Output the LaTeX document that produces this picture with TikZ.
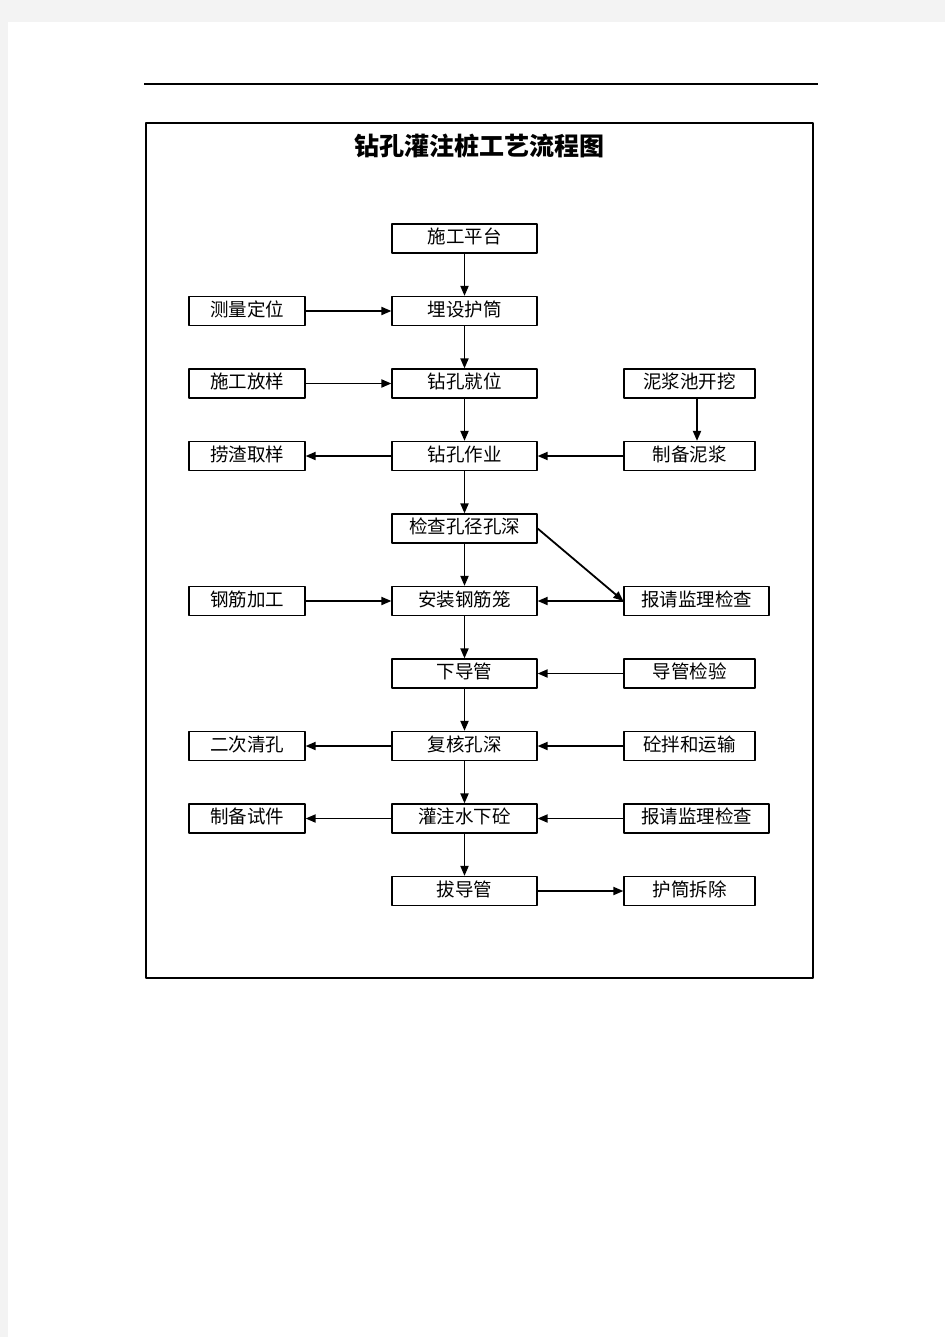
\documentclass[tikz,border=0pt]{standalone}
\usepackage{fontspec}
\setmainfont{Noto Sans CJK SC}
\usetikzlibrary{arrows.meta}
\definecolor{pagegray}{rgb}{0.953,0.953,0.953}

\begin{document}
\begin{tikzpicture}[x=1bp,y=-1bp,>={Triangle[length=10bp,width=8bp]},line join=bevel,
  box/.style={draw,line width=1.2bp,minimum height=29bp,inner sep=0pt,
    text height=1.1em,text depth=0em,font=\fontsize{18.5bp}{20bp}\selectfont},
  mid/.style={box,minimum width=145bp},
  side/.style={box,minimum width=116bp},
  far/.style={box,minimum width=131bp},
  flow/.style={->,line width=1.8bp}]
  \useasboundingbox (0,0) rectangle (945,1337);
%%
  \fill[pagegray] (0,0) rectangle (945,1337);
  \fill[white] (8,22) rectangle (945,1337);
  \draw[line width=1.2bp] (144,84) -- (818,84);
  \draw[line width=2.2bp] (146,123) rectangle (813,978);
  % Node: title
  \node (title) at (479,146) {\fontsize{25bp}{27bp}\selectfont\bfseries 钻孔灌注桩工艺流程图};
  % Nodes: main column
  \node[mid] (plat)     at (464.5,238.5) {施工平台};
  \node[mid] (sleeve)   at (464.5,311)   {埋设护筒};
  \node[mid] (drillpos) at (464.5,383.5) {钻孔就位};
  \node[mid] (drilling) at (464.5,456)   {钻孔作业};
  \node[mid] (check)    at (464.5,528.5) {检查孔径孔深};
  \node[mid] (cage)     at (464.5,601)   {安装钢筋笼};
  \node[mid] (tremie)   at (464.5,673.5) {下导管};
  \node[mid] (recheck)  at (464.5,746)   {复核孔深};
  \node[mid] (pour)     at (464.5,818.5) {灌注水下砼};
  \node[mid] (pull)     at (464.5,891)   {拔导管};
  % Nodes: left column
  \node[side] (survey) at (247,311)   {测量定位};
  \node[side] (setout) at (247,383.5) {施工放样};
  \node[side] (slag)   at (247,456)   {捞渣取样};
  \node[side] (rebar)  at (247,601)   {钢筋加工};
  \node[side] (clean)  at (247,746)   {二次清孔};
  \node[side] (sample) at (247,818.5) {制备试件};
  % Nodes: right column
  \node[far] (pit)      at (689.5,383.5) {泥浆池开挖};
  \node[far] (mud)      at (689.5,456)   {制备泥浆};
  \node[mid] (report)   at (696.5,601)   {报请监理检查};
  \node[far] (tubetest) at (689.5,673.5) {导管检验};
  \node[far] (concrete) at (689.5,746)   {砼拌和运输};
  \node[mid] (reportb)  at (696.5,818.5) {报请监理检查};
  \node[far] (remove)   at (689.5,891)   {护筒拆除};
  % Edge: plat -> sleeve
  \draw[flow] (plat) -- (sleeve);
  % Edge: survey -> sleeve
  \draw[flow] (survey) -- (sleeve);
  % Edge: sleeve -> drillpos
  \draw[flow] (sleeve) -- (drillpos);
  % Edge: setout -> drillpos
  \draw[flow] (setout) -- (drillpos);
  % Edge: pit -> mud
  \draw[flow] ([xshift=7.5bp]pit.south) -- ([xshift=7.5bp]mud.north);
  % Edge: drillpos -> drilling
  \draw[flow] (drillpos) -- (drilling);
  % Edge: drilling -> slag
  \draw[flow] (drilling) -- (slag);
  % Edge: mud -> drilling
  \draw[flow] (mud) -- (drilling);
  % Edge: drilling -> check
  \draw[flow] (drilling) -- (check);
  % Edge: check -> report
  \draw[flow] (check.east) -- (report.west);
  % Edge: check -> cage
  \draw[flow] (check) -- (cage);
  % Edge: rebar -> cage
  \draw[flow] (rebar) -- (cage);
  % Edge: report -> cage
  \draw[flow] (report) -- (cage);
  % Edge: cage -> tremie
  \draw[flow] (cage) -- (tremie);
  % Edge: tubetest -> tremie
  \draw[flow] (tubetest) -- (tremie);
  % Edge: tremie -> recheck
  \draw[flow] (tremie) -- (recheck);
  % Edge: recheck -> clean
  \draw[flow] (recheck) -- (clean);
  % Edge: concrete -> recheck
  \draw[flow] (concrete) -- (recheck);
  % Edge: recheck -> pour
  \draw[flow] (recheck) -- (pour);
  % Edge: pour -> sample
  \draw[flow] (pour) -- (sample);
  % Edge: reportb -> pour
  \draw[flow] (reportb) -- (pour);
  % Edge: pour -> pull
  \draw[flow] (pour) -- (pull);
  % Edge: pull -> remove
  \draw[flow] (pull) -- (remove);
%
\end{tikzpicture}
\end{document}
